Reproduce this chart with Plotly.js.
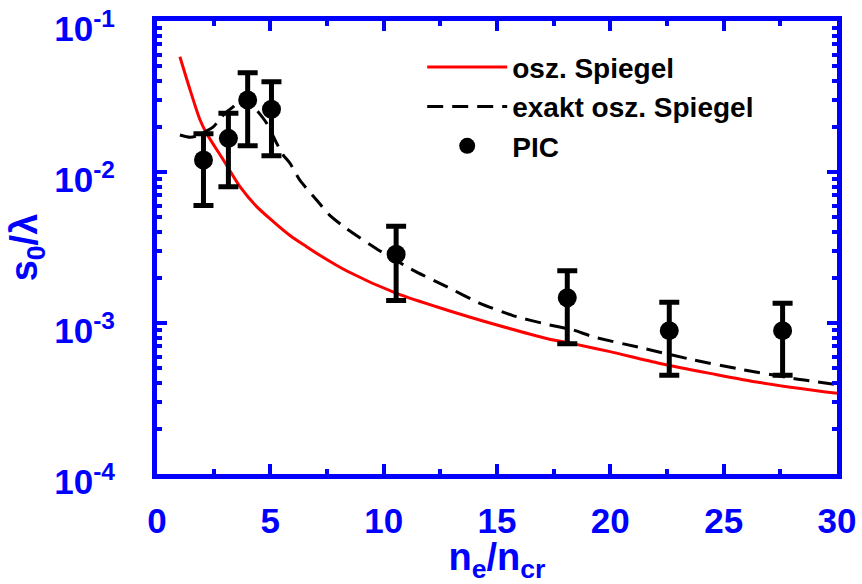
<!DOCTYPE html>
<html>
<head>
<meta charset="utf-8">
<script src="https://cdn.plot.ly/plotly-3.0.1.min.js"></script>
<style>
html,body{margin:0;padding:0;background:#fff;}
#chart{width:862px;height:584px;}
</style>
</head>
<body>
<div id="chart"></div>
<script>
// osz. Spiegel (red solid)
var oszX = [1.01, 1.46, 1.90, 2.19, 2.93, 3.66, 4.40, 5.13, 5.87, 6.6, 7.2, 8.4, 10.57, 12.78, 15.0, 17.19, 18.35, 19.98, 22.19, 24.4, 26.6, 30.0];
var oszY = [0.058, 0.035, 0.0221, 0.0180, 0.0120, 0.0080, 0.0059, 0.0047, 0.0038, 0.0032, 0.0028, 0.0022, 0.00157, 0.00122, 0.00097, 0.00079, 0.00073, 0.000646, 0.00054, 0.000464, 0.000403, 0.000342];

// exakt osz. Spiegel (black dashed)
var exaktX = [1.01, 1.46, 1.75, 2.04, 2.47, 3.0, 3.37, 3.66, 4.0, 4.32, 4.46, 4.84, 5.28, 5.56, 5.87, 6.31, 7.05, 7.6, 8.37, 9.84, 11.29, 12.78, 14.25, 15.7, 17.2, 18.35, 19.25, 21.45, 23.66, 25.87, 28.07, 30.0];
var exaktY = [0.0176, 0.0170, 0.0173, 0.0182, 0.0198, 0.0245, 0.0271, 0.0300, 0.0314, 0.0264, 0.0250, 0.0210, 0.0155, 0.0130, 0.0114, 0.0088, 0.0065, 0.0052, 0.0042, 0.0030, 0.00224, 0.00174, 0.00135, 0.00112, 0.00098, 0.00090, 0.00081, 0.00068, 0.00057, 0.00049, 0.00043, 0.00039];

// PIC simulation points with error bars
var picX = [2.05, 3.15, 4.0, 5.05, 10.55, 18.1, 22.6, 27.6];
var picY = [0.0120, 0.0167, 0.0300, 0.0260, 0.00285, 0.00147, 0.00089, 0.00089];
var picErrPlus = [0.0059, 0.0078, 0.0155, 0.0136, 0.00153, 0.00075, 0.00048, 0.00046];
var picErrMinus = [0.0060, 0.0087, 0.0151, 0.0132, 0.00144, 0.00074, 0.00044, 0.00044];

var xTickVals = [0, 5, 10, 15, 20, 25, 30];
var yTickVals = [1e-4, 1e-3, 1e-2, 1e-1];
var yTickText = ['10<sup>-4</sup>', '10<sup>-3</sup>', '10<sup>-2</sup>', '10<sup>-1</sup>'];

var FONT = 'Liberation Sans, Arial, Helvetica, sans-serif';
var BLUE = '#0000ff';

var traces = [
  {x: oszX, y: oszY, mode: 'lines', name: 'osz. Spiegel',
   line: {color: '#ff0000', width: 3, shape: 'spline', smoothing: 0.8}},
  {x: exaktX, y: exaktY, mode: 'lines', name: 'exakt osz. Spiegel',
   line: {color: '#000000', width: 3, dash: '16px,9px', shape: 'spline', smoothing: 0.6}},
  {x: picX, y: picY, mode: 'markers', name: 'PIC',
   marker: {color: '#000000', size: 19},
   error_y: {type: 'data', symmetric: false, array: picErrPlus, arrayminus: picErrMinus,
             color: '#000000', thickness: 5, width: 10}}
];

var layout = {
  width: 862, height: 584,
  paper_bgcolor: '#ffffff', plot_bgcolor: '#ffffff',
  margin: {l: 157, r: 25, t: 21, b: 110, pad: 0},
  showlegend: true,
  legend: {
    x: 0.39, y: 0.953, xanchor: 'left', yanchor: 'top',
    bgcolor: 'rgba(0,0,0,0)', borderwidth: 0,
    itemwidth: 80,
    font: {family: FONT, size: 28, color: '#000000', weight: 'bold'},
    tracegroupgap: 0
  },
  xaxis: {
    range: [0, 30], tickvals: xTickVals, ticks: 'inside', ticklen: 10, tickwidth: 4,
    tickcolor: BLUE, showline: true, linecolor: BLUE, linewidth: 5, mirror: 'ticks',
    showgrid: false, zeroline: false, ticklabeloverflow: 'allow',
    tickfont: {family: FONT, size: 35, color: BLUE, weight: 'bold'},
    ticklabelstandoff: 12,
    minor: {dtick: 2.5, tick0: 0, ticks: 'inside', ticklen: 5, tickwidth: 4, tickcolor: BLUE, showgrid: false},
    title: {text: 'n<sub>e</sub>/n<sub>cr</sub>', font: {family: FONT, size: 38, color: BLUE, weight: 'bold'}, standoff: 8}
  },
  yaxis: {
    type: 'log', range: [-4, -1], tickvals: yTickVals, ticktext: yTickText,
    ticks: 'inside', ticklen: 10, tickwidth: 4, tickcolor: BLUE,
    showline: true, linecolor: BLUE, linewidth: 5, mirror: 'ticks',
    showgrid: false, zeroline: false, ticklabeloverflow: 'allow',
    tickfont: {family: FONT, size: 35, color: BLUE, weight: 'bold'},
    ticklabelstandoff: 30, ticklabelshift: 8,
    minor: {dtick: 'D1', ticks: 'inside', ticklen: 5, tickwidth: 4, tickcolor: BLUE, showgrid: false},
    title: {text: 's<sub>0</sub>/λ', font: {family: FONT, size: 38, color: BLUE, weight: 'bold'}, standoff: 6}
  }
};

Plotly.newPlot('chart', traces, layout, {displayModeBar: false, staticPlot: true});
</script>
</body>
</html>
